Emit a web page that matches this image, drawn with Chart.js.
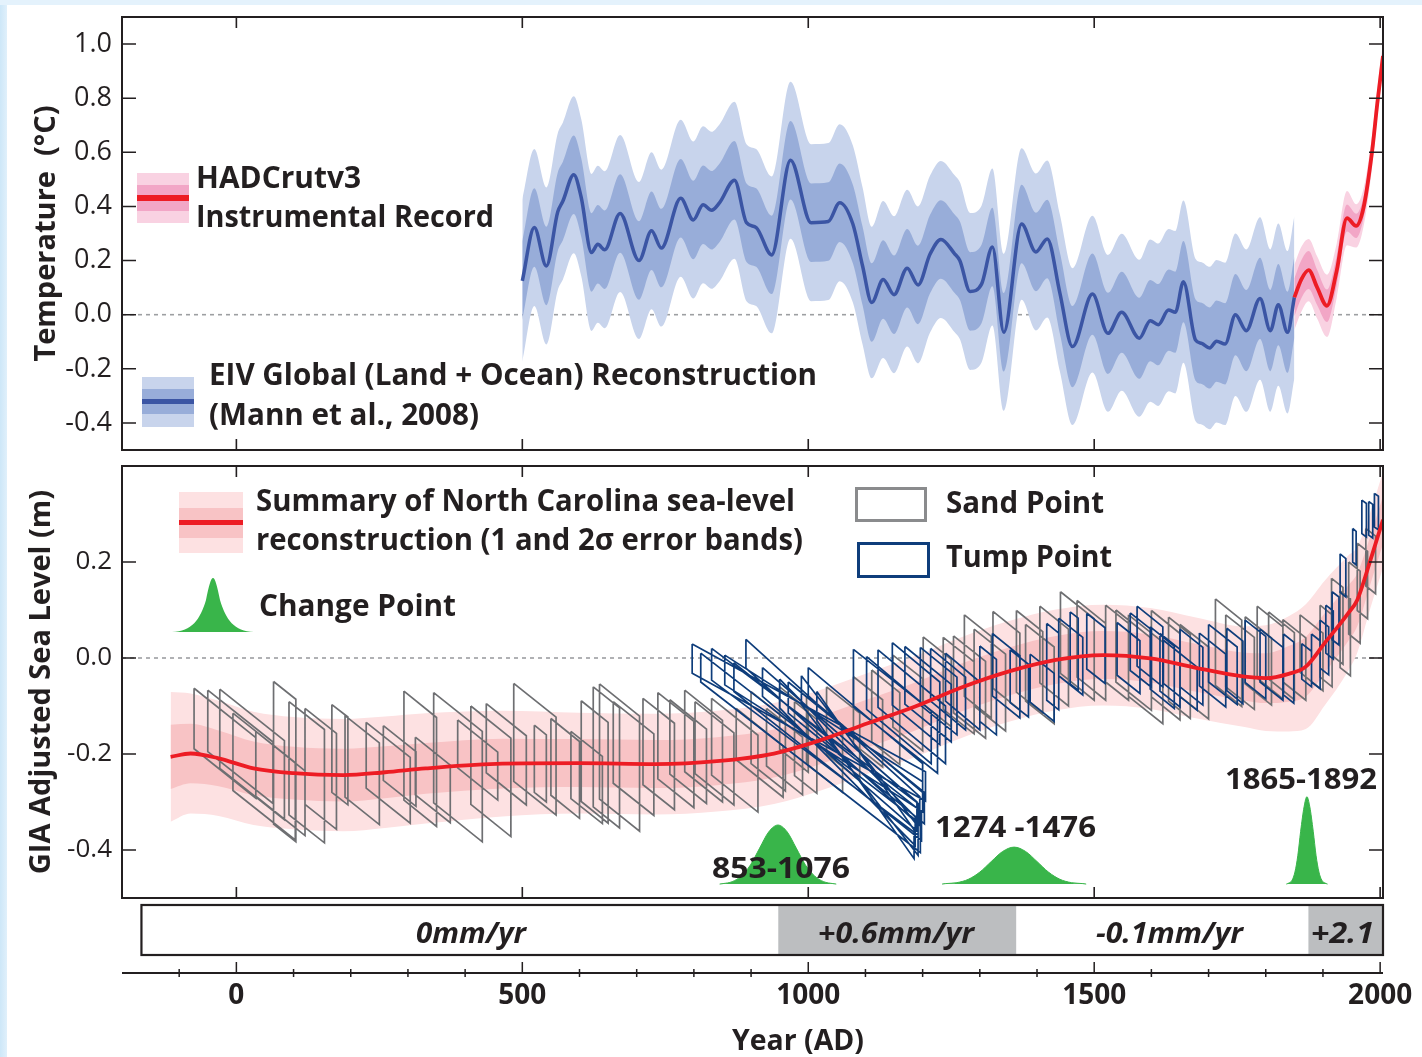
<!DOCTYPE html>
<html><head><meta charset="utf-8">
<script src="https://cdn.jsdelivr.net/npm/chart.js@4.4.1/dist/chart.umd.min.js"></script>
<style>
html,body{margin:0;padding:0;}
body{width:1422px;height:1057px;position:relative;overflow:hidden;background:#fff;font-family:"Open Sans",sans-serif;}
#bgL{position:absolute;left:0;top:0;width:7px;height:1057px;background:linear-gradient(90deg,#cde7f8,#e0f0fb);}
#bgT{position:absolute;left:0;top:0;width:1422px;height:5px;background:#e4f2fc;}
canvas{position:absolute;left:0;}
.t{position:absolute;white-space:nowrap;font-weight:700;color:#231f20;transform-origin:0 0;line-height:1.362;}
.sw{position:absolute;}
</style></head><body>
<div id="bgL"></div><div id="bgT"></div>
<canvas id="c1" width="1422" height="460" style="top:0"></canvas>
<canvas id="c2" width="1422" height="446" style="top:456px"></canvas>
<canvas id="c3" width="1422" height="157" style="top:900px"></canvas>
<!-- legend swatches -->
<div class="sw" style="left:137px;top:173px;width:52px;height:50px;background:#f9d2e2"></div>
<div class="sw" style="left:137px;top:185px;width:52px;height:26px;background:#f2a6c6"></div>
<div class="sw" style="left:137px;top:195px;width:52px;height:6px;background:#ed1c24"></div>
<div class="sw" style="left:142px;top:377px;width:52px;height:50px;background:#c8d4ec"></div>
<div class="sw" style="left:142px;top:389px;width:52px;height:25px;background:#98add9"></div>
<div class="sw" style="left:142px;top:399px;width:52px;height:5px;background:#3b55a4"></div>
<div class="sw" style="left:179px;top:492px;width:64px;height:61px;background:#fde1e2"></div>
<div class="sw" style="left:179px;top:508px;width:64px;height:30px;background:#f8c3c5"></div>
<div class="sw" style="left:179px;top:520px;width:64px;height:5px;background:#ed1c24"></div>
<div class="sw" style="left:855px;top:487px;width:72px;height:35px;border:3px solid #8a8b8d;box-sizing:border-box"></div>
<div class="sw" style="left:857px;top:542px;width:73px;height:36px;border:3px solid #0e3d7b;box-sizing:border-box"></div>
<svg class="sw" style="left:172px;top:575px" width="82" height="58"><path d="M0,57 C20,56 28,45 34,25 C37,10 39,3 41,3 C43,3 45,10 48,25 C54,45 62,56 82,57 Z" fill="#39b54a"/></svg>
<script>
// ---------------- DATA ----------------
// Top panel: EIV global temperature reconstruction (Mann et al., 2008)
const tempYears = [500,521,542,562,571,590,603,621,632,644,671,704,726,743,777,799,816,831,845,871,892,909,936,969,1005,1035,1055,1078,1095,1111,1131,1150,1173,1192,1213,1232,1256,1265,1283,1303,1322,1342,1373,1398,1418,1440,1462,1497,1524,1548,1579,1598,1612,1630,1642,1656,1677,1688,1702,1714,1729,1747,1766,1790,1808,1822,1838,1850];
const tempVals = [0.125,0.322,0.18,0.38,0.42,0.517,0.433,0.23,0.26,0.24,0.374,0.20,0.31,0.246,0.43,0.35,0.406,0.386,0.414,0.497,0.34,0.322,0.221,0.571,0.34,0.344,0.414,0.335,0.18,0.045,0.13,0.074,0.172,0.11,0.224,0.278,0.225,0.2,0.086,0.113,0.25,-0.065,0.335,0.232,0.28,0.08,-0.118,0.076,-0.069,0.009,-0.087,-0.022,-0.037,0.017,0.009,0.122,-0.093,-0.106,-0.123,-0.098,-0.108,0.0,-0.059,0.06,-0.059,0.037,-0.065,0.064];
const tempErr1 = [0.145,0.145,0.145,0.145,0.145,0.145,0.145,0.145,0.145,0.145,0.145,0.145,0.145,0.145,0.145,0.145,0.145,0.145,0.145,0.145,0.145,0.145,0.145,0.145,0.145,0.145,0.145,0.145,0.145,0.145,0.145,0.145,0.145,0.145,0.145,0.145,0.145,0.145,0.145,0.145,0.145,0.145,0.145,0.145,0.145,0.15,0.15,0.15,0.15,0.15,0.15,0.15,0.15,0.15,0.15,0.15,0.15,0.15,0.15,0.15,0.15,0.15,0.15,0.15,0.15,0.15,0.15,0.15];
const tempErr2 = [0.30,0.29,0.29,0.29,0.29,0.29,0.29,0.29,0.29,0.29,0.29,0.29,0.29,0.29,0.29,0.29,0.29,0.29,0.29,0.29,0.29,0.29,0.29,0.29,0.29,0.29,0.29,0.29,0.29,0.28,0.29,0.29,0.29,0.29,0.29,0.29,0.29,0.29,0.29,0.29,0.29,0.29,0.28,0.29,0.29,0.29,0.29,0.29,0.29,0.29,0.29,0.3,0.3,0.3,0.3,0.3,0.3,0.3,0.3,0.3,0.3,0.3,0.3,0.3,0.3,0.3,0.3,0.3];
// HADCrutv3 instrumental record
const hadYears = [1850,1862,1875,1890,1907,1924,1942,1958,1971,1986,1995,2005];
const hadVals  = [0.064,0.13,0.165,0.10,0.033,0.162,0.357,0.328,0.396,0.605,0.78,0.956];
const hadErr1  = [0.07,0.07,0.07,0.065,0.06,0.055,0.05,0.045,0.04,0.035,0.03,0.03];
const hadErr2  = [0.12,0.12,0.115,0.115,0.115,0.1,0.1,0.08,0.07,0.06,0.055,0.05];
const tempTicks = [-0.4,-0.2,0,0.2,0.4,0.6,0.8,1.0];

// Bottom panel: North Carolina sea-level reconstruction
const seaYears = [-115,-80,-31,30,100,187,260,331,465,599,733,840,940,1022,1104,1187,1269,1351,1433,1516,1598,1680,1763,1800,1840,1870,1903,1944,1960,1983,2005];
const seaVals  = [-0.206,-0.199,-0.209,-0.230,-0.240,-0.244,-0.238,-0.230,-0.220,-0.219,-0.221,-0.215,-0.199,-0.171,-0.136,-0.101,-0.061,-0.028,-0.004,0.006,-0.001,-0.021,-0.039,-0.042,-0.033,-0.018,0.031,0.093,0.121,0.204,0.288];
const seaErr1  = [0.067,0.062,0.058,0.056,0.055,0.055,0.054,0.053,0.052,0.05,0.05,0.05,0.05,0.05,0.05,0.05,0.05,0.05,0.05,0.05,0.05,0.05,0.05,0.052,0.058,0.062,0.062,0.058,0.055,0.05,0.05];
const seaErr2  = [0.135,0.125,0.12,0.118,0.117,0.117,0.116,0.115,0.11,0.105,0.105,0.105,0.105,0.105,0.105,0.105,0.105,0.105,0.105,0.105,0.105,0.105,0.105,0.11,0.12,0.13,0.13,0.12,0.11,0.1,0.1];
const seaTicks = [-0.4,-0.2,0,0.2];

// Sea-level index points: [age start, age end, top at start, top at end, vertical size]
const sandPoint = [
 [-74,34,-0.063,-0.166,0.126],[-50,64,-0.067,-0.175,0.128],[-29,84,-0.065,-0.172,0.165],[-6,103,-0.115,-0.218,0.161],
 [34,120,-0.153,-0.235,0.135],[65,104,-0.049,-0.086,0.297],[92,154,-0.091,-0.149,0.236],[120,175,-0.105,-0.157,0.20],
 [167,195,-0.097,-0.123,0.183],[190,250,-0.120,-0.177,0.17],[227,304,-0.134,-0.207,0.137],[257,314,-0.141,-0.195,0.114],
 [293,350,-0.069,-0.124,0.227],[313,374,-0.165,-0.223,0.12],[345,430,-0.072,-0.153,0.23],[387,457,-0.129,-0.196,0.10],
 [410,480,-0.100,-0.167,0.205],[437,507,-0.095,-0.162,0.144],[485,559,-0.053,-0.123,0.204],[521,542,-0.140,-0.160,0.14],
 [550,600,-0.126,-0.174,0.16],[585,640,-0.153,-0.205,0.14],[603,650,-0.089,-0.134,0.21],[624,670,-0.060,-0.104,0.25],
 [635,705,-0.054,-0.121,0.24],[659,730,-0.091,-0.158,0.17],[711,766,-0.084,-0.136,0.18],[737,800,-0.072,-0.132,0.18],
 [758,822,-0.087,-0.148,0.155],[784,850,-0.067,-0.130,0.17],[802,870,-0.091,-0.156,0.15],[831,912,-0.084,-0.161,0.16],
 [874,956,-0.105,-0.183,0.107],[900,960,-0.070,-0.127,0.15],[927,990,-0.105,-0.165,0.12],[950,1000,-0.060,-0.108,0.13],
 [976,1015,-0.091,-0.128,0.154],[997,1060,-0.080,-0.140,0.14],[1032,1090,-0.060,-0.115,0.14],[1079,1130,-0.039,-0.087,0.14],
 [1111,1160,-0.025,-0.072,0.15],[1148,1200,0.006,-0.043,0.15],[1201,1250,0.044,-0.003,0.14],[1236,1290,0.043,-0.008,0.15],
 [1254,1310,0.046,-0.007,0.16],[1273,1320,0.090,0.045,0.17],[1290,1345,0.060,0.008,0.16],[1323,1370,0.097,0.052,0.16],
 [1364,1410,0.099,0.055,0.17],[1380,1430,0.070,0.023,0.16],[1405,1455,0.108,0.060,0.16],[1441,1500,0.138,0.082,0.17],
 [1470,1520,0.120,0.072,0.16],[1520,1560,0.110,0.072,0.16],[1538,1600,0.100,0.041,0.15],[1560,1620,0.090,0.033,0.17],
 [1600,1650,0.099,0.051,0.18],[1630,1668,0.085,0.049,0.175],[1650,1700,0.070,0.023,0.15],[1712,1758,0.123,0.079,0.18],
 [1730,1780,0.090,0.043,0.15],[1764,1810,0.086,0.042,0.14],[1785,1830,0.108,0.065,0.15],[1805,1850,0.096,0.053,0.14],
 [1830,1870,0.080,0.042,0.13],[1860,1900,0.090,0.052,0.12],[1895,1916,0.110,0.090,0.15],[1915,1935,0.166,0.147,0.16],
 [1930,1948,0.140,0.123,0.16],[1945,1965,0.200,0.181,0.15],[1960,1978,0.239,0.222,0.14],[1975,1992,0.270,0.254,0.12]
];
const tumpPoint = [
 [797,1205,0.029,-0.237,0.061],[812,1196,0.010,-0.345,0.060],[831,1192,0.020,-0.303,0.066],[854,1200,0.006,-0.258,0.062],
 [870,1198,-0.010,-0.320,0.060],[891,1195,0.039,-0.289,0.060],[920,1190,-0.020,-0.300,0.060],[950,1187,-0.044,-0.331,0.060],
 [965,1203,-0.050,-0.280,0.065],[988,1192,-0.037,-0.351,0.060],[1000,1200,-0.020,-0.220,0.060],[1015,1185,-0.070,-0.358,0.060],
 [1079,1226,0.018,-0.120,0.12],[1102,1215,0.003,-0.110,0.11],[1122,1240,0.017,-0.100,0.12],[1147,1230,0.032,-0.050,0.13],
 [1169,1250,0.024,-0.055,0.12],[1196,1260,0.022,-0.040,0.12],[1214,1275,0.020,-0.040,0.11],[1240,1300,0.010,-0.050,0.10],
 [1300,1329,0.025,-0.003,0.157],[1322,1370,0.051,0.005,0.13],[1353,1385,0.017,-0.013,0.11],[1388,1430,0.008,-0.032,0.10],
 [1417,1438,0.072,0.052,0.16],[1438,1480,0.083,0.043,0.12],[1458,1472,0.096,0.083,0.15],[1487,1519,0.093,0.063,0.116],
 [1540,1580,0.074,0.036,0.11],[1563,1600,0.094,0.059,0.12],[1575,1620,0.108,0.065,0.125],[1598,1640,0.065,0.025,0.13],
 [1615,1650,0.051,0.018,0.12],[1621,1680,0.037,-0.019,0.09],[1650,1690,0.060,0.022,0.12],[1684,1730,0.052,0.008,0.11],
 [1700,1750,0.070,0.023,0.12],[1732,1760,0.062,0.035,0.13],[1764,1800,0.079,0.045,0.13],[1790,1830,0.060,0.022,0.11],
 [1831,1849,0.050,0.033,0.127],[1863,1880,0.030,0.014,0.074],[1880,1895,0.050,0.036,0.10],[1895,1910,0.079,0.065,0.10],
 [1905,1918,0.110,0.098,0.10],[1916,1928,0.138,0.127,0.10],[1930,1940,0.217,0.207,0.08],[1952,1958,0.270,0.264,0.07],
 [1968,1976,0.329,0.322,0.07],[1980,1987,0.326,0.320,0.07],[1990,1997,0.343,0.337,0.07]
];
// Change point probability distributions (drawn in sea-level units above a common base)
const cpBase = -0.471;
const cp1Years = [845,851,867,883,899,915,931,947,963,979,995,1011,1027,1043,1049];
const cp1Vals  = [-0.471,-0.470,-0.466,-0.454,-0.431,-0.396,-0.362,-0.348,-0.362,-0.396,-0.431,-0.454,-0.466,-0.470,-0.471];
const cp2Years = [1234,1240,1260,1280,1300,1320,1340,1360,1380,1400,1420,1440,1460,1480,1486];
const cp2Vals  = [-0.471,-0.470,-0.468,-0.461,-0.446,-0.424,-0.403,-0.394,-0.403,-0.424,-0.446,-0.461,-0.468,-0.470,-0.471];
const cp3Years = [1836,1840,1846,1851,1856,1861,1867,1872,1877,1883,1888,1893,1898,1904,1908];
const cp3Vals  = [-0.471,-0.469,-0.463,-0.446,-0.412,-0.361,-0.310,-0.289,-0.310,-0.361,-0.412,-0.446,-0.463,-0.469,-0.471];

// Rate bar
const rateStarts = [-166,947,1363,1874];
const rateEnds   = [947,1363,1874,2005];
const rateLabels = ['0mm/yr','+0.6mm/yr','-0.1mm/yr','+2.1'];
const rateShaded = [false,true,false,true];

// Year axis ticks
const xMajor = [0,500,1000,1500,2000];
const xMinor = [-100,100,200,300,400,600,700,800,900,1100,1200,1300,1400,1600,1700,1800,1900];

// ---------------- STYLE ----------------
const C = {ink:'#231f20', tLight:'#c8d4ec', tDark:'#98add9', tLine:'#3b55a4', hLight:'#f9d2e2', hDark:'#f2a6c6',
  red:'#ed1c24', sLight:'#fde1e2', sDark:'#f8c3c5', sand:'#6e6f72', tump:'#0e3d7b', green:'#39b54a', rate:'#bcbec0'};
const FONT = '"Open Sans", sans-serif';
Chart.defaults.font.family = FONT;
Chart.defaults.color = C.ink;
const NONE = 'rgba(0,0,0,0)';

function xy(xs, ys){ return xs.map((x,i)=>({x:x, y:ys[i]})); }
function band(xs, ys, errs, color, order){
  return [
    {data: xs.map((x,i)=>({x:x, y:ys[i]+errs[i]})), fill:'+1', backgroundColor:color, borderColor:NONE, borderWidth:0, pointRadius:0, cubicInterpolationMode:'monotone', order:order},
    {data: xs.map((x,i)=>({x:x, y:ys[i]-errs[i]})), fill:false, backgroundColor:NONE, borderColor:NONE, borderWidth:0, pointRadius:0, cubicInterpolationMode:'monotone', order:order}
  ];
}
function curve(xs, ys, color, w, order){
  return {data: xy(xs, ys), fill:false, borderColor:color, borderWidth:w, pointRadius:0, cubicInterpolationMode:'monotone', borderCapStyle:'butt', order:order};
}
function boxes(list, color, order){
  const pts = [];
  for (const [a1,a2,t1,t2,h] of list){
    pts.push({x:a1,y:t1},{x:a2,y:t2},{x:a2,y:t2-h},{x:a1,y:t1-h},{x:a1,y:t1},{x:a2,y:null});
  }
  return {data: pts, fill:false, borderColor:color, borderWidth:1.7, pointRadius:0, tension:0, spanGaps:false, order:order};
}
function bell(xs, ys, order){
  return {data: xy(xs, ys), fill:{value:cpBase}, backgroundColor:C.green, borderColor:C.green, borderWidth:1, pointRadius:0, cubicInterpolationMode:'monotone', order:order};
}

const framePlugin = {
  id:'frame',
  beforeDatasetsDraw(chart, args, o){
    const {ctx, chartArea:a, scales} = chart;
    const y = scales.y.getPixelForValue(0);
    ctx.save(); ctx.strokeStyle='#9d9fa2'; ctx.lineWidth=1.6; ctx.setLineDash([4,4]);
    ctx.beginPath(); ctx.moveTo(a.left,y); ctx.lineTo(a.right,y); ctx.stroke(); ctx.restore();
  },
  afterDraw(chart, args, o){
    const {ctx, chartArea:a, scales:{x,y}} = chart;
    ctx.save(); ctx.strokeStyle=C.ink; ctx.lineWidth=2;
    ctx.strokeRect(a.left, a.top, a.right-a.left, a.bottom-a.top);
    ctx.beginPath(); ctx.lineWidth=1.6;
    for (const v of o.yTicks){ const py=y.getPixelForValue(v); ctx.moveTo(a.left,py); ctx.lineTo(a.left+14,py); ctx.moveTo(a.right,py); ctx.lineTo(a.right-14,py); }
    for (const v of xMajor){ const px=x.getPixelForValue(v); ctx.moveTo(px,a.top); ctx.lineTo(px,a.top+11); ctx.moveTo(px,a.bottom); ctx.lineTo(px,a.bottom-11); }
    ctx.stroke(); ctx.restore();
  }
};

function yScale(min, max, ticks, title, fs, tpad){
  return {min:min, max:max,
    afterFit(s){ s.width = 122; s.paddingTop = 0; s.paddingBottom = 0; },
    afterBuildTicks(s){ s.ticks = ticks.map(v=>({value:v})); },
    grid:{display:false, drawTicks:false}, border:{display:false},
    ticks:{font:{size:fs, family:FONT}, color:C.ink, padding:10, callback:v=>Number(v).toFixed(1)},
    title:{display:true, text:title, font:{size:29, weight:'bold', family:FONT}, color:C.ink, padding:{top:tpad, bottom:0}}
  };
}
const common = {responsive:false, animation:false, devicePixelRatio:1, events:[],
  plugins:{legend:{display:false}, tooltip:{enabled:false}}};

// ---------- Top chart ----------
new Chart(document.getElementById('c1'), {
  type:'line',
  data:{datasets:[
    ...band(tempYears, tempVals, tempErr2, C.tLight, 10),
    ...band(tempYears, tempVals, tempErr1, C.tDark, 9),
    ...band(hadYears, hadVals, hadErr2, C.hLight, 8),
    ...band(hadYears, hadVals, hadErr1, C.hDark, 7),
    curve(tempYears, tempVals, C.tLine, 3.5, 3),
    curve(hadYears, hadVals, C.red, 3.8, 2)
  ]},
  options:{...common,
    layout:{padding:{top:17, right:39, bottom:10, left:0}},
    plugins:{...common.plugins, frame:{yTicks:tempTicks}},
    scales:{
      x:{type:'linear', min:-200, max:2005, display:false},
      y:yScale(-0.5, 1.1, tempTicks, 'Temperature  (\u00B0C)', 27, 29)
    }},
  plugins:[framePlugin]
});

// ---------- Bottom chart ----------
new Chart(document.getElementById('c2'), {
  type:'line',
  data:{datasets:[
    ...band(seaYears, seaVals, seaErr2, C.sLight, 10),
    ...band(seaYears, seaVals, seaErr1, C.sDark, 9),
    boxes(sandPoint, C.sand, 6),
    boxes(tumpPoint, C.tump, 5),
    bell(cp1Years, cp1Vals, 4),
    bell(cp2Years, cp2Vals, 4),
    bell(cp3Years, cp3Vals, 4),
    curve(seaYears, seaVals, C.red, 3.8, 2)
  ]},
  options:{...common,
    layout:{padding:{top:10, right:39, bottom:4, left:0}},
    plugins:{...common.plugins, frame:{yTicks:seaTicks}},
    scales:{
      x:{type:'linear', min:-200, max:2005, display:false},
      y:yScale(-0.5, 0.4, seaTicks, 'GIA Adjusted Sea Level (m)', 26, 24)
    }},
  plugins:[framePlugin]
});

// ---------- Rate bar + year axis ----------
const ratePlugin = {
  id:'ratebar',
  afterDraw(chart){
    const {ctx, chartArea:a, scales:{x}} = chart;
    ctx.save(); ctx.strokeStyle=C.ink;
    const l = x.getPixelForValue(rateStarts[0]), r = x.getPixelForValue(rateEnds[rateEnds.length-1]);
    ctx.lineWidth=2.2; ctx.strokeRect(l, a.top, r-l, a.bottom-a.top);
    const ay = a.bottom + 18;
    ctx.lineWidth=2; ctx.beginPath(); ctx.moveTo(a.left, ay); ctx.lineTo(a.right, ay); ctx.stroke();
    ctx.lineWidth=1.5; ctx.beginPath();
    for (const v of xMajor){ const px=x.getPixelForValue(v); ctx.moveTo(px, ay-11); ctx.lineTo(px, ay); }
    for (const v of xMinor){ const px=x.getPixelForValue(v); ctx.moveTo(px, ay-4); ctx.lineTo(px, ay+4); }
    ctx.stroke(); ctx.restore();
  }
};
new Chart(document.getElementById('c3'), {
  type:'bar',
  data:{labels:['rate'], datasets: rateStarts.map((s,i)=>({label:rateLabels[i], data:[[s, rateEnds[i]]],
     backgroundColor: rateShaded[i] ? C.rate : '#ffffff', borderWidth:0, barPercentage:1, categoryPercentage:1, grouped:false}))},
  options:{...common, indexAxis:'y',
    layout:{padding:{top:5, right:39, bottom:0, left:122}},
    scales:{
      y:{display:false},
      x:{type:'linear', min:-200, max:2005,
        afterFit(s){ s.height = 102; s.paddingLeft = 0; s.paddingRight = 0; },
        afterBuildTicks(s){ s.ticks = xMajor.map(v=>({value:v})); },
        grid:{display:false, drawTicks:false}, border:{display:false},
        ticks:{padding:24, font:{size:28, weight:'bold', family:FONT}, color:C.ink, callback:v=>String(v)},
        title:{display:false}
      }
    }},
  plugins:[ratePlugin]
});

// ---------- Text annotations ----------
const notes = [
 ['HADCrutv3',196,189,30,165],
 ['Instrumental Record',196,228,30,298],
 ['EIV Global (Land + Ocean) Reconstruction',209,386,30,608],
 ['(Mann et al., 2008)',209,426,30,270],
 ['Summary of North Carolina sea-level',256,512,30,539],
 ['reconstruction (1 and 2\u03C3 error bands)',256,551,30,547],
 ['Change Point',259,617,30,197],
 ['Sand Point',946,514,30,158],
 ['Tump Point',946,568,30,166],
 ['853-1076',712,878,28,138],
 ['1274 -1476',935,837,28,161],
 ['1865-1892',1225,789,28,152],
 [rateLabels[0],416,943,28,110,1],
 [rateLabels[1],818,943,28,156,1],
 [rateLabels[2],1096,943,28,147,1],
 [rateLabels[3],1311,943,28,63,1],
 ['Year (AD)',732,1050,28,132]
];
const els = [];
for (const [txt,x,base,fs,w,it] of notes){
  const d=document.createElement('div'); d.className='t'; d.textContent=txt;
  d.style.fontSize=fs+'px'; d.style.left=x+'px'; d.style.top=(base-1.069*fs)+'px';
  if(it) d.style.fontStyle='italic';
  document.body.appendChild(d); els.push([d,w]);
}
function fit(){ for (const [d,w] of els){ d.style.transform='none'; const aw=d.getBoundingClientRect().width; d.style.transform='scaleX('+(w/aw).toFixed(4)+')'; } }
fit();
if (document.fonts && document.fonts.ready) document.fonts.ready.then(fit);
</script>
</body></html>
